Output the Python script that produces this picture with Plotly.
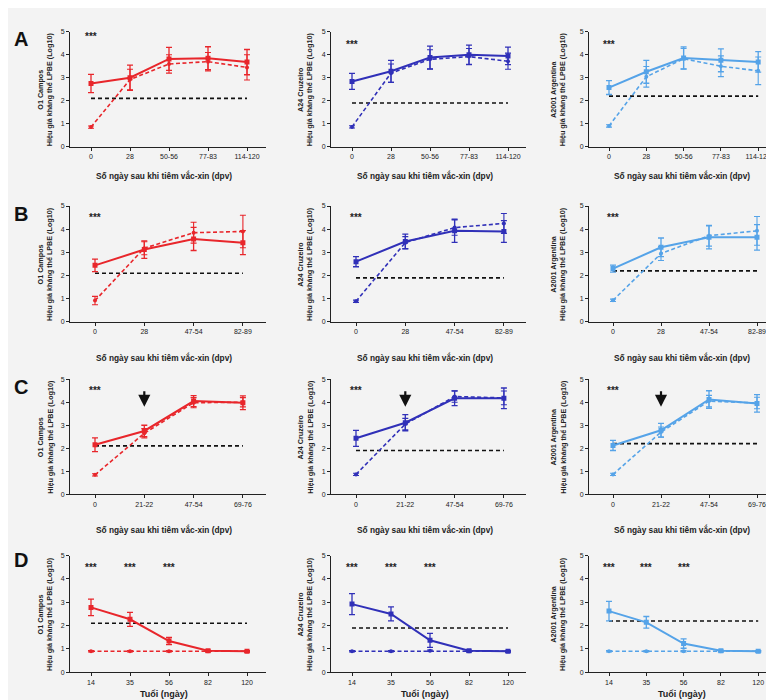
import plotly.graph_objects as go

# ---------------- data ----------------
cats_A = ["0", "28", "50-56", "77-83", "114-120"]
cats_B = ["0", "28", "47-54", "82-89"]
cats_C = ["0", "21-22", "47-54", "69-76"]
cats_D = ["14", "35", "56", "82", "120"]

serotypes = ["O1 Campos", "A24 Cruzeiro", "A2001 Argentina"]
thresholds = [2.1, 1.9, 2.2]
colors = ["#e8262b", "#3030b8", "#55a3e8"]

# Row A (solid / dashed means and error half-widths), one list per serotype
A_solid = [[2.75, 3.00, 3.82, 3.85, 3.68], [2.84, 3.28, 3.88, 4.00, 3.95], [2.57, 3.26, 3.86, 3.76, 3.69]]
A_solid_err = [[0.40, 0.55, 0.50, 0.50, 0.55], [0.35, 0.48, 0.50, 0.42, 0.38], [0.30, 0.50, 0.48, 0.50, 0.45]]
A_dash = [[0.85, 2.92, 3.60, 3.70, 3.45], [0.86, 3.20, 3.80, 3.92, 3.72], [0.90, 3.04, 3.83, 3.50, 3.30]]
A_dash_err = [[0.05, 0.45, 0.40, 0.40, 0.55], [0.05, 0.40, 0.42, 0.35, 0.35], [0.05, 0.45, 0.45, 0.45, 0.60]]

B_solid = [[2.44, 3.12, 3.58, 3.42], [2.60, 3.47, 3.93, 3.90], [2.30, 3.22, 3.65, 3.65]]
B_solid_err = [[0.27, 0.38, 0.50, 0.52], [0.22, 0.32, 0.50, 0.47], [0.15, 0.40, 0.50, 0.55]]
B_dash = [[0.92, 3.18, 3.85, 3.90], [0.89, 3.42, 4.07, 4.25], [0.93, 2.95, 3.72, 3.93]]
B_dash_err = [[0.18, 0.28, 0.45, 0.70], [0.05, 0.26, 0.33, 0.43], [0.05, 0.30, 0.45, 0.62]]

C_solid = [[2.15, 2.75, 4.05, 3.98], [2.43, 3.11, 4.17, 4.17], [2.12, 2.78, 4.12, 3.95]]
C_solid_err = [[0.30, 0.25, 0.24, 0.30], [0.35, 0.35, 0.32, 0.45], [0.22, 0.30, 0.38, 0.38]]
C_dash = [[0.84, 2.65, 3.98, 4.00], [0.86, 3.05, 4.25, 4.19], [0.86, 2.70, 4.05, 3.97]]
C_dash_err = [[0.05, 0.20, 0.22, 0.20], [0.05, 0.25, 0.25, 0.30], [0.05, 0.22, 0.25, 0.25]]

D_solid = [[2.78, 2.27, 1.34, 0.92, 0.90], [2.92, 2.50, 1.37, 0.92, 0.90], [2.62, 2.14, 1.23, 0.92, 0.90]]
D_solid_err = [[0.35, 0.30, 0.15, 0.03, 0.03], [0.45, 0.30, 0.30, 0.03, 0.03], [0.42, 0.25, 0.20, 0.03, 0.03]]
D_dash = [[0.90, 0.90, 0.90, 0.90, 0.90], [0.90, 0.90, 0.92, 0.90, 0.90], [0.90, 0.90, 0.90, 0.90, 0.90]]
D_dash_err = [[0.03, 0.03, 0.03, 0.03, 0.03], [0.03, 0.03, 0.03, 0.03, 0.03], [0.03, 0.03, 0.03, 0.03, 0.03]]

row_labels = ["A", "B", "C", "D"]
xtitle_dpv = "Số ngày sau khi tiêm vắc-xin (dpv)"
xtitle_age = "Tuổi (ngày)"
ytitle_line2 = "Hiệu giá kháng thể LPBE (Log10)"

# significance stars: (category index, y) per row, per column
stars_rows = {
    0: [[(0, 4.8)], [(0, 4.45)], [(0, 4.45)]],
    1: [[(0, 4.5)], [(0, 4.5)], [(0, 4.5)]],
    2: [[(0, 4.5)], [(0, 4.5)], [(0, 4.5)]],
    3: [[(0, 4.5), (1, 4.5), (2, 4.5)], [(0, 4.5), (1, 4.5), (2, 4.5)], [(0, 4.5), (1, 4.5), (2, 4.5)]],
}
arrow_cat = 1  # row C arrow at 21-22
arrow_tip, arrow_tail = 3.8, 4.55

rows = [
    (cats_A, A_solid, A_solid_err, A_dash, A_dash_err),
    (cats_B, B_solid, B_solid_err, B_dash, B_dash_err),
    (cats_C, C_solid, C_solid_err, C_dash, C_dash_err),
    (cats_D, D_solid, D_solid_err, D_dash, D_dash_err),
]

# ---------------- layout geometry (pixels) ----------------
W, H = 774, 700
col_px = [(62, 258), (323, 518), (581, 774)]
row_px = [(20, 136), (196, 313), (371, 487), (549, 667)]
xtitle_y_px = [165, 349, 523, 689]
xtitle_x_px = [156, 417, 674]
ytitle_x_px = [37, 297, 550]
label_y_px = [27, 204, 379, 554]
spacing = [{5: 39.0, 4: 49.3}, {5: 39.0, 4: 49.3}, {5: 37.3, 4: 48.0}]
left_off = [{5: 21.0, 4: 25.0}, {5: 21.0, 4: 25.0}, {5: 20.0, 4: 24.0}]

FONT = "Liberation Sans, Arial, sans-serif"
TXT = "#222222"

fig = go.Figure()
annotations = []
layout_axes = {}

for r, (cats, sol, sol_e, das, das_e) in enumerate(rows):
    n = len(cats)
    for c in range(3):
        idx = r * 3 + c + 1
        xa = "x" if idx == 1 else f"x{idx}"
        ya = "y" if idx == 1 else f"y{idx}"
        color = colors[c]
        x0p, x1p = col_px[c]
        y0p, y1p = row_px[r]
        sp = spacing[c][n]
        lo = -left_off[c][n] / sp
        hi = lo + (x1p - x0p) / sp

        # threshold line
        fig.add_trace(go.Scatter(
            x=cats, y=[thresholds[c]] * n, xaxis=xa, yaxis=ya, mode="lines",
            line=dict(color="#111111", width=1.6, dash="4px,3px"), showlegend=False, hoverinfo="skip"))
        # dashed series
        fig.add_trace(go.Scatter(
            x=cats, y=das[c], xaxis=xa, yaxis=ya, mode="lines+markers",
            line=dict(color=color, width=1.6, dash="4px,2.5px"),
            marker=dict(color=color, size=4, symbol="circle"),
            error_y=dict(type="data", array=das_e[c], color=color, thickness=1.1, width=3),
            showlegend=False))
        # solid series
        fig.add_trace(go.Scatter(
            x=cats, y=sol[c], xaxis=xa, yaxis=ya, mode="lines+markers",
            line=dict(color=color, width=2),
            marker=dict(color=color, size=5, symbol="square"),
            error_y=dict(type="data", array=sol_e[c], color=color, thickness=1.3, width=3),
            showlegend=False))

        key = "" if idx == 1 else str(idx)
        layout_axes["xaxis" + key] = dict(
            domain=[x0p / W, x1p / W], anchor=ya, type="category", range=[lo, hi],
            showline=True, linecolor="#222", linewidth=1, ticks="outside", ticklen=3,
            tickcolor="#222", showgrid=False, zeroline=False,
            tickfont=dict(family=FONT, size=7, color=TXT), fixedrange=True)
        layout_axes["yaxis" + key] = dict(
            domain=[1 - y1p / H, 1 - y0p / H], anchor=xa, range=[0, 5],
            tickvals=[0, 1, 2, 3, 4, 5], showline=True, linecolor="#222", linewidth=1,
            ticks="outside", ticklen=3, tickcolor="#222", showgrid=False, zeroline=False,
            tickfont=dict(family=FONT, size=7, color=TXT), fixedrange=True)

        # y title
        annotations.append(dict(
            x=ytitle_x_px[c] / W, y=1 - ((y0p + y1p) / 2) / H, xref="paper", yref="paper",
            text=f"<b>{serotypes[c]}<br>{ytitle_line2}</b>", textangle=-90, showarrow=False,
            xanchor="center", yanchor="middle", font=dict(family=FONT, size=7.2, color=TXT)))
        # x title
        xt = xtitle_age if r == 3 else xtitle_dpv
        annotations.append(dict(
            x=xtitle_x_px[c] / W, y=1 - xtitle_y_px[r] / H, xref="paper", yref="paper",
            text=f"<b>{xt}</b>", showarrow=False, xanchor="center", yanchor="middle",
            font=dict(family=FONT, size=9 if r == 3 else 8.3, color=TXT)))
        # stars
        for (ci, sy) in stars_rows[r][c]:
            annotations.append(dict(
                x=ci, y=sy, xref=xa, yref=ya, text="<b>***</b>", showarrow=False,
                xanchor="center", yanchor="middle", font=dict(family=FONT, size=10, color=TXT)))
        # arrow in row C
        if r == 2:
            annotations.append(dict(
                x=arrow_cat, y=arrow_tip, xref=xa, yref=ya, ax=arrow_cat, ay=arrow_tail,
                axref=xa, ayref=ya, text="", showarrow=True, arrowhead=2, arrowsize=1.1,
                arrowwidth=2.2, arrowcolor="#111111"))

for r in range(4):
    annotations.append(dict(
        x=13 / W, y=1 - label_y_px[r] / H, xref="paper", yref="paper",
        text=f"<b>{row_labels[r]}</b>", showarrow=False, xanchor="center", yanchor="middle",
        font=dict(family=FONT, size=20, color="#111111")))

fig.update_layout(
    width=W, height=H, margin=dict(l=0, r=0, t=0, b=0),
    paper_bgcolor="#f3f3f3", plot_bgcolor="#f3f3f3",
    annotations=annotations, showlegend=False, **layout_axes)

fig.write_html("out.html")
